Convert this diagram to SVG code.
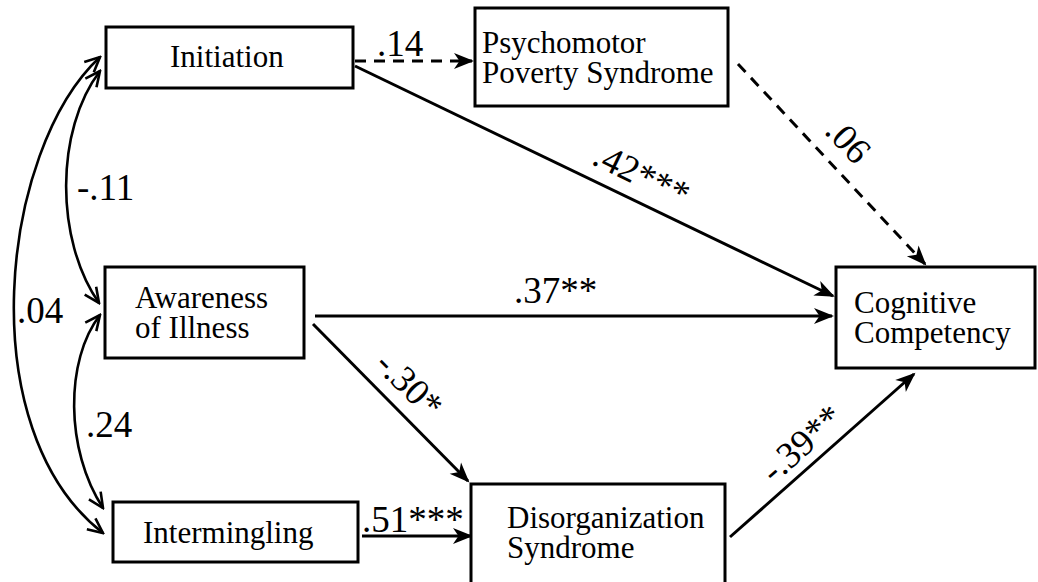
<svg xmlns="http://www.w3.org/2000/svg" width="1038" height="582" viewBox="0 0 1038 582">
<style>
.box{fill:#fff;stroke:#000;stroke-width:3}
.nt{font-family:"Liberation Serif","Times New Roman",serif;font-size:31px;fill:#000}
.el{font-family:"Liberation Serif","Times New Roman",serif;font-size:37px;fill:#000}
.ln{stroke:#000;stroke-width:3;fill:none}
.dl{stroke:#000;stroke-width:3;fill:none;stroke-dasharray:11 8}
.cv{stroke:#000;stroke-width:2.6;fill:none}
</style>
<defs>
<marker id="fa" markerUnits="userSpaceOnUse" viewBox="-22 -10 24 20" refX="-2" refY="0" markerWidth="24" markerHeight="20" orient="auto">
<path d="M0,0 L-20,-8 L-14.5,0 L-20,8 Z" fill="#000"/>
</marker>
<marker id="oa" markerUnits="userSpaceOnUse" viewBox="-18 -10 20 20" refX="0" refY="0" markerWidth="20" markerHeight="20" orient="auto-start-reverse">
<path d="M-15,-7 L0,0 L-15,7" fill="none" stroke="#000" stroke-width="2.6"/>
</marker>
</defs>
<rect width="1038" height="582" fill="#fff"/>
<g id="connectors">
<line class="dl" x1="355" y1="61" x2="472" y2="61" marker-end="url(#fa)"/>
<line class="ln" x1="355" y1="66" x2="833" y2="296" marker-end="url(#fa)"/>
<line class="dl" x1="738" y1="64" x2="925" y2="264" marker-end="url(#fa)"/>
<line class="ln" x1="315" y1="316" x2="832" y2="316" marker-end="url(#fa)"/>
<line class="ln" x1="313" y1="324" x2="468" y2="481" marker-end="url(#fa)"/>
<line class="ln" x1="362" y1="536" x2="471" y2="536" marker-end="url(#fa)"/>
<line class="ln" x1="730" y1="537" x2="914" y2="374" marker-end="url(#fa)"/>
<path class="cv" d="M100,57 C0,150 -30,430 103,533" marker-start="url(#oa)" marker-end="url(#oa)"/>
<path class="cv" d="M100,71 C55,130 55,240 99,303" marker-start="url(#oa)" marker-end="url(#oa)"/>
<path class="cv" d="M100,315 C65,360 65,450 103,508" marker-start="url(#oa)" marker-end="url(#oa)"/>
<text class="el" x="377" y="56" font-size="34">.14</text>
<text class="el" transform="translate(642,174) rotate(25.9)" x="0" y="13" text-anchor="middle" font-size="38">.42***</text>
<text class="el" transform="translate(848,141) rotate(47)" x="0" y="12" text-anchor="middle" font-size="36">.06</text>
<text class="el" x="514" y="303" font-size="38">.37**</text>
<text class="el" transform="translate(410,384) rotate(45)" x="0" y="13" text-anchor="middle" font-size="38">-.30*</text>
<text class="el" x="362" y="532" font-size="38">.51***</text>
<text class="el" transform="translate(801,443) rotate(-41.6)" x="0" y="13" text-anchor="middle" font-size="38">-.39**</text>
<text class="el" x="77" y="200">-.11</text>
<text class="el" x="17" y="323" font-size="36">.04</text>
<text class="el" x="86" y="437" font-size="36">.24</text>
</g>
<g id="initiation">
<rect class="box" x="106" y="27" width="247" height="61"/>
<text class="nt" x="170" y="67">Initiation</text>
</g>
<g id="psychomotor">
<rect class="box" x="475" y="8" width="253" height="98"/>
<text class="nt" x="482" y="53">Psychomotor</text>
<text class="nt" x="482" y="83">Poverty Syndrome</text>
</g>
<g id="awareness">
<rect class="box" x="105" y="267" width="199" height="91"/>
<text class="nt" x="135" y="308">Awareness</text>
<text class="nt" x="135" y="338">of Illness</text>
</g>
<g id="intermingling">
<rect class="box" x="113" y="502" width="245" height="60"/>
<text class="nt" x="143" y="543">Intermingling</text>
</g>
<g id="disorganization">
<rect class="box" x="471" y="484" width="254" height="110"/>
<text class="nt" x="507" y="528">Disorganization</text>
<text class="nt" x="507" y="558">Syndrome</text>
</g>
<g id="cognitive">
<rect class="box" x="836" y="267" width="199" height="101"/>
<text class="nt" x="854" y="313">Cognitive</text>
<text class="nt" x="854" y="343">Competency</text>
</g>
</svg>
